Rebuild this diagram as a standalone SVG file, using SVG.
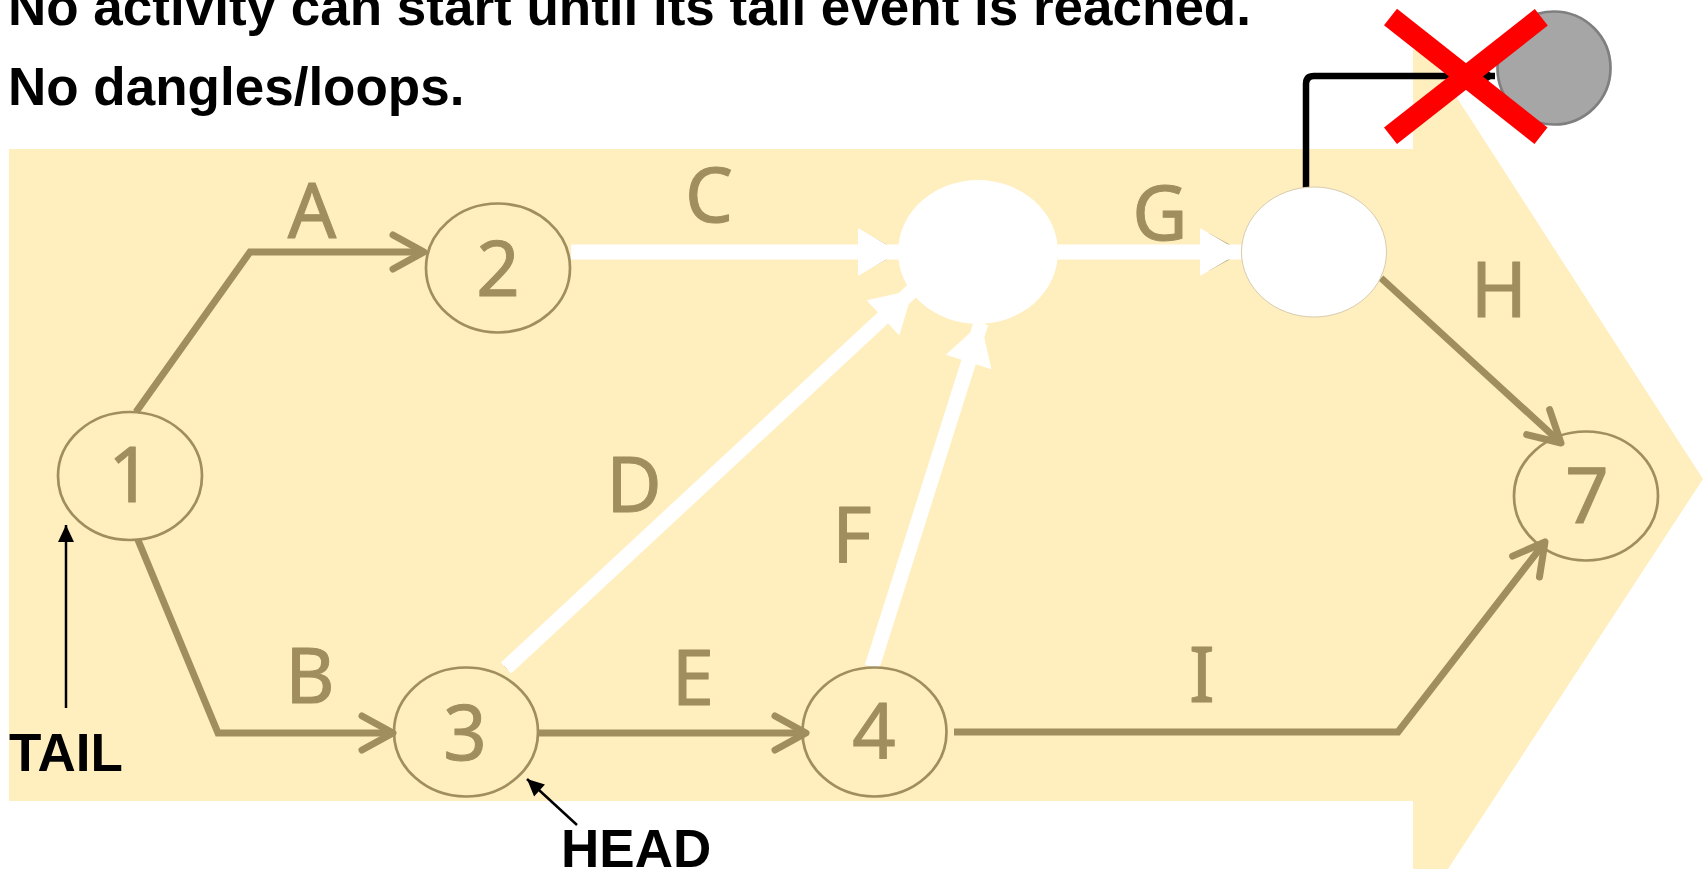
<svg xmlns="http://www.w3.org/2000/svg" width="1705" height="869" viewBox="0 0 1705 869">
<style>
.bg{fill:#FFEEBE}
.tan{fill:none;stroke:#A08E5E;stroke-width:7;stroke-linejoin:miter}
.tan2{fill:none;stroke:#A08E5E;stroke-width:5}
.wht{fill:none;stroke:#FFFFFF;stroke-width:15}
.node{fill:none;stroke:#A08E5E;stroke-width:2.7}
.lbl{font-family:"Noto Sans","DejaVu Sans",sans-serif;font-size:76px;fill:#A08E5E;stroke:#A08E5E;stroke-width:1;stroke-linejoin:round;text-anchor:middle}
.hdr{font-family:"Liberation Sans",Arial,sans-serif;font-weight:bold;font-size:53px;fill:#000}
.thin{fill:none;stroke:#000;stroke-width:2.5}
</style>
<defs>
<marker id="chev" markerUnits="userSpaceOnUse" markerWidth="80" markerHeight="80" viewBox="-40 -40 80 80" refX="0" refY="0" orient="auto">
<path d="M-31,-17 L0,0 L-31,17" fill="none" stroke="#A08E5E" stroke-width="7" stroke-linecap="round" stroke-linejoin="round"/>
</marker>
<marker id="chev2" markerUnits="userSpaceOnUse" markerWidth="80" markerHeight="80" viewBox="-40 -40 80 80" refX="0" refY="0" orient="auto">
<path d="M-31,-17 L0,0 L-31,17" fill="none" stroke="#A08E5E" stroke-width="4" stroke-linecap="round" stroke-linejoin="round"/>
</marker>
<marker id="wtri" markerUnits="userSpaceOnUse" markerWidth="100" markerHeight="100" viewBox="-50 -50 100 100" refX="0" refY="0" orient="auto">
<path d="M-41,-24 L0,0 L-41,24 Z" fill="#FFFFFF"/>
</marker>
<marker id="btri" markerUnits="userSpaceOnUse" markerWidth="40" markerHeight="40" viewBox="-20 -20 40 40" refX="0" refY="0" orient="auto">
<path d="M-17,-8 L0,0 L-17,8 Z" fill="#000"/>
</marker>
<marker id="btri2" markerUnits="userSpaceOnUse" markerWidth="40" markerHeight="40" viewBox="-20 -20 40 40" refX="0" refY="0" orient="auto">
<path d="M-10,-7 L0,0 L-10,7 Z" fill="#000"/>
</marker>
</defs>

<polygon class="bg" points="9,149 1413,149 1413,50 1426,50 1703,479 1448,869 1413,869 1413,801 9,801"/>

<text class="hdr" x="8" y="25">No activity can start until its tail event is reached.</text>
<text class="hdr" x="8" y="105">No dangles/loops.</text>

<g id="connectors">
<polyline class="tan" points="136,412 250,252 424,252" marker-end="url(#chev)"/>
<polyline class="tan" points="138,540 218,733 393,733" marker-end="url(#chev)"/>
<line class="tan" x1="538" y1="733" x2="806" y2="733" marker-end="url(#chev)"/>
<polyline class="tan" points="954,732 1398,732 1545,542" marker-end="url(#chev)"/>
<line class="tan" x1="1381" y1="278" x2="1561" y2="443" marker-end="url(#chev)"/>
<line class="tan2" x1="571" y1="252" x2="896" y2="252" marker-end="url(#chev2)"/>
<line class="tan2" x1="1058" y1="252" x2="1239" y2="252" marker-end="url(#chev2)"/>
<line class="tan2" x1="506" y1="668" x2="908" y2="295" marker-end="url(#chev2)"/>
<line class="tan2" x1="872" y1="667" x2="979" y2="330" marker-end="url(#chev2)"/>
<line class="wht" x1="571" y1="252" x2="899" y2="252" marker-end="url(#wtri)"/>
<line class="wht" x1="1058" y1="252" x2="1241" y2="252" marker-end="url(#wtri)"/>
<line class="wht" x1="506" y1="668" x2="913" y2="290" marker-end="url(#wtri)"/>
<line class="wht" x1="872" y1="667" x2="981" y2="323" marker-end="url(#wtri)"/>
<path d="M1306,188 V84 Q1306,76 1314,76 H1495" fill="none" stroke="#000" stroke-width="6.5" marker-end="url(#btri2)"/>
<line class="thin" x1="66" y1="708" x2="66" y2="525" marker-end="url(#btri)"/>
<line class="thin" x1="577" y1="825" x2="527" y2="779" marker-end="url(#btri)"/>
</g>

<g id="n1"><ellipse class="node" cx="130" cy="476" rx="72" ry="64"/><text class="lbl" x="130" y="502">1</text></g>
<g id="n2"><ellipse class="node" cx="498" cy="268" rx="72" ry="64.5"/><text class="lbl" x="498" y="296">2</text></g>
<g id="n3"><ellipse class="node" cx="466" cy="732" rx="72" ry="64.5"/><text class="lbl" x="465" y="760">3</text></g>
<g id="n4"><ellipse class="node" cx="874.5" cy="732" rx="72" ry="64.5"/><text class="lbl" x="874" y="758">4</text></g>
<g id="n5"><ellipse cx="978" cy="252" rx="80" ry="72" fill="#FFFFFF"/></g>
<g id="n6"><ellipse cx="1314" cy="252" rx="72.5" ry="65" fill="#FFFFFF" stroke="#D8CCB0" stroke-width="1"/></g>
<g id="n7"><ellipse class="node" cx="1586" cy="496" rx="72" ry="64.5"/><text class="lbl" x="1587" y="523">7</text></g>

<g id="labels">
<text class="lbl" x="312" y="238">A</text>
<text class="lbl" x="310" y="703">B</text>
<text class="lbl" x="709" y="222">C</text>
<text class="lbl" x="634" y="512">D</text>
<text class="lbl" x="693" y="705">E</text>
<text class="lbl" x="852" y="562">F</text>
<text class="lbl" x="1160" y="240">G</text>
<text class="lbl" x="1499" y="317">H</text>
<text class="lbl" x="1202" y="702">I</text>
</g>

<g id="tail"><text class="hdr" x="9" y="771">TAIL</text></g>
<g id="head"><text class="hdr" x="561" y="867">HEAD</text></g>

<g id="dead-end">
<circle cx="1554" cy="68" r="56.5" fill="#A6A6A6" stroke="#7F7F7F" stroke-width="2.7"/>
<g stroke="#FF0000" stroke-width="21">
<line x1="1390.5" y1="17" x2="1541" y2="135.7"/>
<line x1="1541.3" y1="17.3" x2="1390.5" y2="135.7"/>
</g>
</g>
</svg>
